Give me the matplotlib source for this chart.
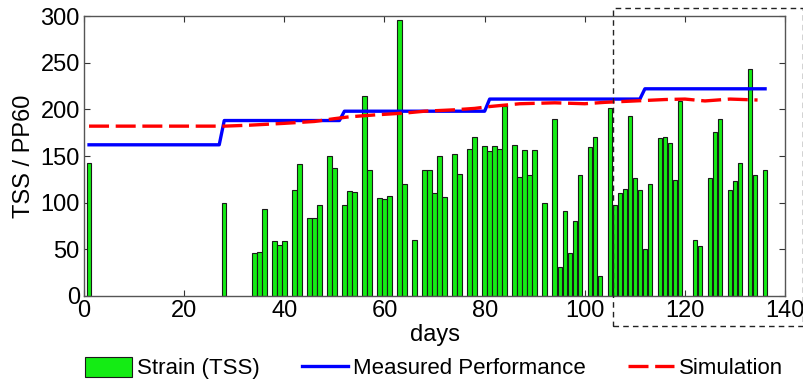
import matplotlib
matplotlib.use("Agg")
import matplotlib.pyplot as plt
from matplotlib.patches import Rectangle

plt.rcParams['font.family'] = ['Liberation Sans', 'DejaVu Sans']
plt.rcParams['font.size'] = 17

# strain per day (TSS)
strain_days = [1, 28, 34, 35, 36, 38, 39, 40, 42, 43, 45, 46, 47, 49, 50,
               52, 53, 54, 56, 57, 59, 60, 61, 63, 64, 66, 68, 69, 70, 71,
               72, 74, 75, 77, 78, 80, 81, 82, 83, 84, 86, 87, 88, 89, 90,
               92, 94, 95, 96, 97, 98, 99, 101, 102, 103, 105, 106, 107, 108,
               109, 110, 111, 112, 113, 115, 116, 117, 118, 119, 122, 123,
               125, 126, 127, 129, 130, 131, 133, 134, 136]
strain_tss = [143, 100, 46, 47, 93, 59, 55, 59, 114, 141, 84, 84, 98, 150, 137,
              97, 113, 111, 214, 135, 105, 104, 107, 296, 120, 60, 135, 135, 110, 150,
              106, 152, 131, 158, 170, 161, 155, 161, 157, 204, 162, 128, 156, 130, 156,
              100, 190, 31, 91, 46, 80, 130, 160, 170, 21, 201, 98, 110, 115,
              193, 126, 114, 50, 120, 169, 170, 164, 124, 209, 60, 54,
              126, 176, 190, 114, 123, 143, 243, 130, 135]

# measured performance (PP60), step changes
measured_days = [1, 27, 28, 51, 52, 80, 81, 111, 112, 136]
measured_pp60 = [162, 162, 188, 188, 198, 198, 211, 211, 222, 222]

# simulated performance
sim_days = [1, 28, 33, 40, 46, 50, 53, 58, 64, 68, 74, 78, 81, 87, 94, 100,
            104, 110, 116, 120, 124, 129, 134.5]
sim_pp60 = [182, 182, 183, 185, 187, 190, 192, 194, 196, 198, 199.5, 201, 203,
            206, 207, 206, 207.5, 209, 210.5, 211, 209, 211, 210]

fig = plt.figure(figsize=(8.04, 3.85), dpi=100)
ax = fig.add_axes([0.1045, 0.2312, 0.872, 0.7272])

bars = ax.bar(strain_days, strain_tss, width=0.9, color='#14ec14', edgecolor='#1a1a1a',
              linewidth=0.8, label='Strain (TSS)', zorder=2)
l1, = ax.plot(measured_days, measured_pp60, color='#0000ff', lw=2.4,
              label='Measured Performance', zorder=3)
l2, = ax.plot(sim_days, sim_pp60, color='#ff0000', lw=2.4, linestyle=(0, (6, 2)),
              label='Simulation', zorder=4)

ax.set_xlim(0, 140)
ax.set_ylim(0, 300)
ax.set_xticks(range(0, 141, 20))
ax.set_yticks(range(0, 301, 50))
ax.tick_params(direction='in', length=4.5, width=0.8, top=True, right=True,
               color='#333333', pad=3)
for s in ax.spines.values():
    s.set_color('#555555')
    s.set_linewidth(1)

ax.set_xlabel('days', labelpad=1)
ax.set_ylabel('TSS / PP60', labelpad=4)

fig.legend(handles=[bars, l1, l2], loc='center', bbox_to_anchor=(0.54, 0.044),
           ncol=3, frameon=False, fontsize=16,
           handlelength=2.1, handleheight=1.0, handletextpad=0.2,
           columnspacing=1.9, borderpad=0)

# dashed box marking the last weeks
fig.patches.append(Rectangle((0.762, 0.153), 0.2367, 0.825, transform=fig.transFigure,
                             fill=False, edgecolor='#222222', lw=1,
                             linestyle=(0, (4, 3)), clip_on=False))

plt.savefig('out.png', dpi=100)
